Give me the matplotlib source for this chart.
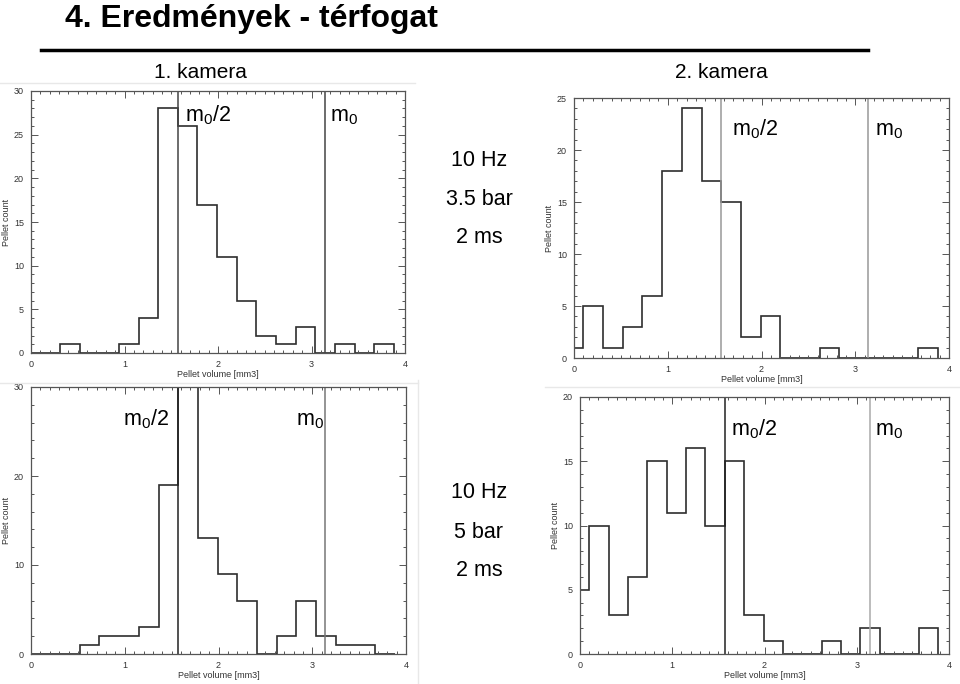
import matplotlib
matplotlib.use("Agg")
import matplotlib.pyplot as plt
from matplotlib.lines import Line2D
from matplotlib.ticker import MultipleLocator

plt.rcParams['font.family'] = ['Liberation Sans', 'DejaVu Sans']
plt.rcParams['mathtext.fontset'] = 'custom'
plt.rcParams['mathtext.rm'] = 'Liberation Sans'
plt.rcParams['mathtext.it'] = 'Liberation Sans'

# histogram bin edges (mm3), shared by all four panels
bin_edges = [-0.11, 0.10, 0.31, 0.52, 0.73, 0.94, 1.15, 1.36, 1.57, 1.78,
             1.99, 2.20, 2.41, 2.62, 2.83, 3.04, 3.25, 3.46, 3.67, 3.88]

# pellet counts per bin
cam1_35bar = [0, 0, 1, 0, 0, 1, 4, 28, 26, 17, 11, 6, 2, 1, 3, 0, 1, 0, 1]
cam2_35bar = [1, 5, 1, 3, 6, 18, 24, 17, 15, 2, 4, 0, 0, 1, 0, 0, 0, 0, 1]
cam1_5bar = [0, 0, 0, 1, 2, 2, 3, 19, 34, 13, 9, 6, 0, 2, 6, 2, 1, 1, 0]
cam2_5bar = [5, 10, 3, 6, 15, 11, 16, 10, 15, 3, 1, 0, 0, 1, 0, 2, 0, 0, 2]

m0 = 3.14
m0_half = 1.57

W, H = 960, 684
fig = plt.figure(figsize=(W / 100, H / 100), dpi=100)


def px_axes(left, top, right, bottom):
    return fig.add_axes([left / W, 1 - bottom / H, (right - left) / W, (bottom - top) / H])


def setup(ax, ymax, ymajor, yminor):
    ax.set_xlim(0, 4)
    ax.set_ylim(0, ymax)
    ax.xaxis.set_major_locator(MultipleLocator(1))
    ax.xaxis.set_minor_locator(MultipleLocator(0.1))
    ax.yaxis.set_major_locator(MultipleLocator(ymajor))
    ax.yaxis.set_minor_locator(MultipleLocator(yminor))
    ax.tick_params(which='both', direction='in', top=True, right=True,
                   colors='#555555', labelcolor='#333333', labelsize=6.5, width=0.7)
    ax.tick_params(which='major', length=5, pad=5)
    ax.tick_params(which='minor', length=2.5)
    for s in ax.spines.values():
        s.set_color('#555555')
        s.set_linewidth(0.9)
    ax.set_xlabel('Pellet volume [mm3]', fontsize=6.5, color='#333333', labelpad=1)
    ax.set_ylabel('Pellet count', fontsize=6.5, color='#333333', labelpad=2)


panels = [
    # counts, axes box (px), ymax, major, minor, line colours, label spots
    (cam1_35bar, (31, 91, 405, 353), 30, 5, 1, ('#444444', '#444444'),
     [(m0_half + 0.08, 26.5, 'left'), (m0 + 0.06, 26.5, 'left')]),
    (cam2_35bar, (574, 98, 949, 358), 25, 5, 1, ('#999999', '#999999'),
     [(m0_half + 0.11, 21.4, 'left'), (m0 + 0.07, 21.4, 'left')]),
    (cam1_5bar, (31, 387, 406, 654), 30, 10, 2, ('#222222', '#777777'),
     [(m0_half - 0.1, 25.7, 'right'), (m0 - 0.01, 25.7, 'right')]),
    (cam2_5bar, (580, 397, 949, 654), 20, 5, 1, ('#222222', '#aaaaaa'),
     [(m0_half + 0.07, 17.0, 'left'), (m0 + 0.06, 17.0, 'left')]),
]

for counts, box, ymax, ymaj, ymin, lcols, spots in panels:
    ax = px_axes(*box)
    setup(ax, ymax, ymaj, ymin)
    ax.stairs(counts, bin_edges, baseline=0, color='#2e2e2e', linewidth=1.2)
    ax.axvline(m0_half, color=lcols[0], linewidth=1.1)
    ax.axvline(m0, color=lcols[1], linewidth=1.1)
    ax.text(spots[0][0], spots[0][1], r'$\mathregular{m_0/2}$', fontsize=15.5,
            ha=spots[0][2], va='baseline')
    ax.text(spots[1][0], spots[1][1], r'$\mathregular{m_0}$', fontsize=15.5,
            ha=spots[1][2], va='baseline')

# faint screenshot borders around the pasted plots
for x0, y0, x1, y1 in [(0, 83, 415, 83), (418, 380, 418, 684), (545, 387, 960, 387),
                       (0, 383, 418, 383)]:
    fig.add_artist(Line2D([x0 / W, x1 / W], [1 - y0 / H, 1 - y1 / H],
                          color='#e8e8e8', linewidth=1))

# title and underline
fig.text(65 / W, 1 - 27 / H, '4. Eredmények - térfogat', fontsize=23,
         fontweight='bold', ha='left', va='baseline')
fig.add_artist(Line2D([41 / W, 868 / W], [1 - 50 / H, 1 - 50 / H],
                      color='black', linewidth=2.5))

fig.text(200 / W, 1 - 72 / H, '1. kamera', fontsize=15, ha='center', va='center')
fig.text(721 / W, 1 - 73 / H, '2. kamera', fontsize=15, ha='center', va='center')

for label, y in [('10 Hz', 160), ('3.5 bar', 199), ('2 ms', 237)]:
    fig.text(479 / W, 1 - y / H, label, fontsize=15.5, ha='center', va='center')
for label, y in [('10 Hz', 493), ('5 bar', 532), ('2 ms', 570)]:
    fig.text(479 / W, 1 - y / H, label, fontsize=15.5, ha='center', va='center')

fig.savefig('out.png', dpi=100)
